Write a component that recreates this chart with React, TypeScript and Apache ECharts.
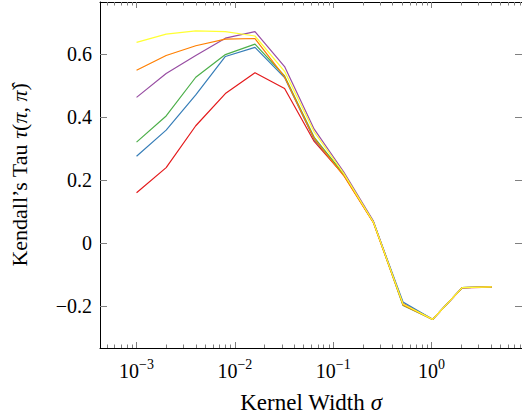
import React, { useEffect, useRef } from "react";
import * as echarts from "echarts";

const sigma = [0.001, 0.002, 0.004, 0.008, 0.016, 0.032, 0.064, 0.128, 0.256, 0.512, 1.024, 2.048, 4.096];

const redVals = [0.159, 0.239, 0.372, 0.474, 0.540, 0.490, 0.322, 0.215, 0.065, -0.193, -0.243, -0.143, -0.141];
const blueVals = [0.275, 0.358, 0.470, 0.592, 0.621, 0.525, 0.328, 0.217, 0.066, -0.188, -0.243, -0.142, -0.140];
const greenVals = [0.320, 0.403, 0.526, 0.598, 0.631, 0.530, 0.335, 0.218, 0.067, -0.199, -0.243, -0.142, -0.140];
const purpleVals = [0.462, 0.538, 0.595, 0.650, 0.671, 0.560, 0.361, 0.225, 0.069, -0.195, -0.243, -0.142, -0.140];
const orangeVals = [0.548, 0.595, 0.626, 0.647, 0.649, 0.527, 0.331, 0.213, 0.064, -0.197, -0.243, -0.142, -0.140];
const yellowVals = [0.637, 0.663, 0.673, 0.671, 0.657, 0.545, 0.352, 0.220, 0.066, -0.194, -0.243, -0.142, -0.140];

const seriesList = [
  { name: "s1", color: "#e41a1c", values: redVals },
  { name: "s2", color: "#377eb8", values: blueVals },
  { name: "s3", color: "#4daf4a", values: greenVals },
  { name: "s4", color: "#984ea3", values: purpleVals },
  { name: "s5", color: "#ff7f00", values: orangeVals },
  { name: "s6", color: "#ffff33", values: yellowVals },
];

const xMajorTicks = [0.001, 0.01, 0.1, 1];
const xMinorTicks = [
  0.0005, 0.0006, 0.0007, 0.0008, 0.0009,
  0.002, 0.003, 0.004, 0.005, 0.006, 0.007, 0.008, 0.009,
  0.02, 0.03, 0.04, 0.05, 0.06, 0.07, 0.08, 0.09,
  0.2, 0.3, 0.4, 0.5, 0.6, 0.7, 0.8, 0.9,
  2, 3, 4, 5, 6, 7, 8,
];
const yTicks = [-0.2, 0, 0.2, 0.4, 0.6];

const X_MIN = 0.000425;
const X_MAX = 8.3;
const Y_MIN = -0.334;
const Y_MAX = 0.765;

const FONT = "'Liberation Serif', 'DejaVu Serif', serif";
const TICK_COLOR = "#808080";

export default function App() {
  const ref = useRef<HTMLDivElement>(null);
  useEffect(() => {
    if (!ref.current) return;
    const chart = echarts.init(ref.current, undefined, { renderer: "svg" });

    const baseX = {
      type: "log" as const,
      logBase: 10,
      min: X_MIN,
      max: X_MAX,
      splitLine: { show: false },
      minorTick: { show: false },
    };

    const xAxes = [
      {
        ...baseX,
        position: "bottom",
        axisLine: { show: true, onZero: false, lineStyle: { color: "#000", width: 1 } },
        axisTick: { show: true, inside: true, length: 6, customValues: xMajorTicks, lineStyle: { color: TICK_COLOR, width: 1 } },
        axisLabel: {
          show: true,
          margin: 9,
          customValues: xMajorTicks,
          fontFamily: FONT,
          color: "#000",
          formatter: (v: number) => {
            const e = Math.round(Math.log10(v));
            const es = e < 0 ? "\u2212" + Math.abs(e) : String(e);
            return "{b|10}{s|" + es + "}";
          },
          rich: {
            b: { fontSize: 20, fontFamily: FONT, color: "#000", verticalAlign: "bottom", lineHeight: 24 },
            s: { fontSize: 14, fontFamily: FONT, color: "#000", verticalAlign: "top", lineHeight: 24 },
          },
        },
        name: "{n|Kernel Width }{i|\u03c3}",
        nameLocation: "middle",
        nameGap: 43,
        nameTextStyle: {
          rich: {
            n: { fontSize: 23, fontFamily: FONT, color: "#000" },
            i: { fontSize: 23, fontFamily: FONT, fontStyle: "italic", color: "#000" },
          },
        },
      },
      {
        ...baseX,
        position: "bottom",
        axisLine: { show: false, onZero: false },
        axisTick: { show: true, inside: true, length: 3.5, customValues: xMinorTicks, lineStyle: { color: TICK_COLOR, width: 1 } },
        axisLabel: { show: false },
      },
      {
        ...baseX,
        position: "top",
        axisLine: { show: true, onZero: false, lineStyle: { color: "#000", width: 1 } },
        axisTick: { show: true, inside: true, length: 6, customValues: xMajorTicks, lineStyle: { color: TICK_COLOR, width: 1 } },
        axisLabel: { show: false },
      },
      {
        ...baseX,
        position: "top",
        axisLine: { show: false, onZero: false },
        axisTick: { show: true, inside: true, length: 3.5, customValues: xMinorTicks, lineStyle: { color: TICK_COLOR, width: 1 } },
        axisLabel: { show: false },
      },
    ];

    const baseY = {
      type: "value" as const,
      min: Y_MIN,
      max: Y_MAX,
      splitLine: { show: false },
    };

    const yAxes = [
      {
        ...baseY,
        position: "left",
        axisLine: { show: true, onZero: false, lineStyle: { color: "#000", width: 1 } },
        axisTick: { show: true, inside: true, length: 7, customValues: yTicks, lineStyle: { color: TICK_COLOR, width: 1 } },
        axisLabel: {
          show: true,
          margin: 8,
          customValues: yTicks,
          fontSize: 20,
          fontFamily: FONT,
          color: "#000",
          formatter: (v: number) => {
            const r = Math.round(v * 10) / 10;
            if (r === 0) return "0";
            return r < 0 ? "\u2212" + Math.abs(r).toFixed(1) : r.toFixed(1);
          },
        },
        name: "{n|Kendall\u2019s Tau }{i|\u03c4}{n|(}{i|\u03c0}{n|, }{i|\u03c0\u0302}{n|)}",
        nameLocation: "middle",
        nameGap: 70,
        nameTextStyle: {
          rich: {
            n: { fontSize: 22, fontFamily: FONT, color: "#000" },
            i: { fontSize: 22, fontFamily: FONT, fontStyle: "italic", color: "#000" },
          },
        },
      },
      {
        ...baseY,
        position: "right",
        axisLine: { show: true, onZero: false, lineStyle: { color: "#000", width: 1 } },
        axisTick: { show: true, inside: true, length: 7, customValues: yTicks, lineStyle: { color: TICK_COLOR, width: 1 } },
        axisLabel: { show: false },
      },
    ];

    chart.setOption({
      animation: false,
      backgroundColor: "#fff",
      grid: { left: 100, right: -1, top: 2, bottom: 64, containLabel: false },
      xAxis: xAxes,
      yAxis: yAxes,
      series: seriesList.map((s) => ({
        name: s.name,
        type: "line",
        xAxisIndex: 0,
        yAxisIndex: 0,
        data: sigma.map((x, i) => [x, s.values[i]]),
        showSymbol: false,
        symbol: "none",
        lineStyle: { color: s.color, width: 1.2 },
        itemStyle: { color: s.color },
        clip: true,
      })),
    });

    return () => chart.dispose();
  }, []);

  return <div ref={ref} style={{ width: 522, height: 419, position: "absolute", left: 0, top: 0 }} />;
}
